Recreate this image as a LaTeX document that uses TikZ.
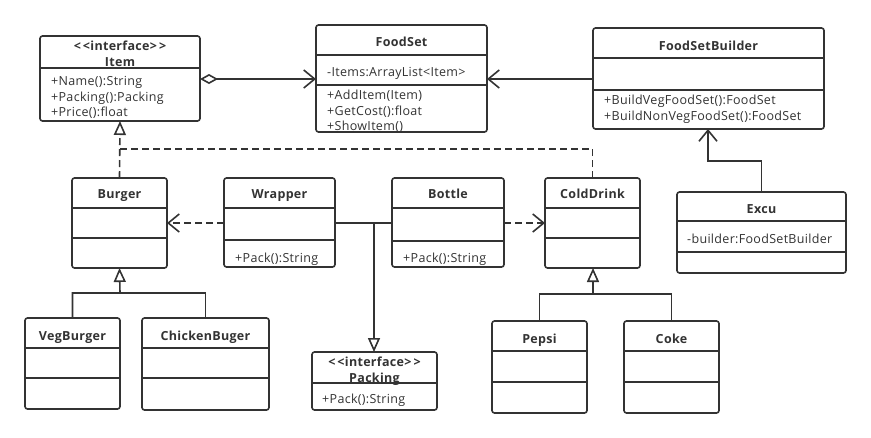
\documentclass[tikz,border=0pt]{standalone}
\usepackage{fontspec}
\setmainfont{Open Sans}[LetterSpace=2.5]
\usetikzlibrary{arrows.meta,calc}
\definecolor{ink}{HTML}{333333}
\tikzset{
  clsbox/.style={draw=ink, line width=1.6pt, rounded corners=2.5pt, fill=white, inner sep=0pt, outer sep=0pt},
  divline/.style={draw=ink, line width=1.5pt},
  conn/.style={draw=ink, line width=1.6pt},
  dashconn/.style={conn, dash pattern=on 7pt off 4pt},
  barb/.style={-{Straight Barb[length=11pt,width=18pt,line width=1.6pt]}},
  tri/.style={-{Triangle[open,length=14pt,width=12pt,line width=1.6pt]}},
  diambarb/.style={{Diamond[open,length=18pt,width=10pt,line width=1.6pt]}-{Straight Barb[length=11pt,width=18pt,line width=1.6pt]}},
  txt/.style={text=ink, inner sep=0pt, font=\fontsize{12.5}{15}\selectfont},
  ttl/.style={txt, font=\fontsize{12.5}{15}\selectfont\bfseries},
}
\newcommand\cls[5]{%
  \pgfmathsetmacro\cw{#4-#2}\pgfmathsetmacro\ch{#5-#3}%
  \node[clsbox, minimum width=\cw pt, minimum height=\ch pt, anchor=north west] (#1) at (#2,#3) {};}
\newcommand\divl[2]{\draw[divline] (#1.west |- 0,#2) -- (#1.east |- 0,#2);}
\newcommand\iface{<\kern2pt<interface>\kern2pt>}
\begin{document}
\begin{tikzpicture}[x=1pt,y=-1pt]
\useasboundingbox[fill=white] (0,0) rectangle (871,437);
% boxes
\cls{item}{40}{36}{200}{121}\divl{item}{68}
\cls{foodset}{316}{25}{487}{132}\divl{foodset}{55}\divl{foodset}{85}
\cls{fsb}{593}{28}{824}{129}\divl{fsb}{58}\divl{fsb}{90}
\cls{excu}{677}{192}{846}{273}\divl{excu}{221}\divl{excu}{252}
\cls{burger}{72}{178}{167}{268}\divl{burger}{208}\divl{burger}{238}
\cls{wrapper}{224}{178}{335}{267}\divl{wrapper}{208}\divl{wrapper}{240}
\cls{bottle}{392}{178}{504}{267}\divl{bottle}{208}\divl{bottle}{241}
\cls{colddrink}{545}{178}{640}{268}\divl{colddrink}{208}\divl{colddrink}{238}
\cls{vegburger}{25}{318}{120}{409}\divl{vegburger}{348}\divl{vegburger}{378}
\cls{chicken}{142}{318}{269}{410}\divl{chicken}{348}\divl{chicken}{378}
\cls{packing}{312}{352}{437}{410}\divl{packing}{383}
\cls{pepsi}{492}{321}{587}{413}\divl{pepsi}{351}\divl{pepsi}{382}
\cls{coke}{624}{321}{719}{413}\divl{coke}{351}\divl{coke}{382}
% texts
\node[ttl, anchor=base] (t-item1) at (120,50) {\iface};
\node[ttl, anchor=base] (t-item2) at (120,66) {Item};
\node[txt, anchor=base west] (t-item3) at (51,85.5) {+Name():String};
\node[txt, anchor=base west] (t-item4) at (51,101) {+Packing():Packing};
\node[txt, anchor=base west] (t-item5) at (51,116.5) {+Price():float};
\node[ttl, anchor=base] (t-fs1) at (401.5,46) {FoodSet};
\node[txt, anchor=base west] (t-fs2) at (327,76) {-Items:ArrayList<Item>};
\node[txt, anchor=base west] (t-fs3) at (327,99.5) {+AddItem(Item)};
\node[txt, anchor=base west] (t-fs4) at (327,115) {+GetCost():float};
\node[txt, anchor=base west] (t-fs5) at (327,130) {+ShowItem()};
\node[ttl, anchor=base] (t-fsb1) at (708.5,50) {FoodSetBuilder};
\node[txt, anchor=base west] (t-fsb2) at (604,104) {+BuildVegFoodSet():FoodSet};
\node[txt, anchor=base west] (t-fsb3) at (604,120) {+BuildNonVegFoodSet():FoodSet};
\node[ttl, anchor=base] (t-ex1) at (761.5,213) {Excu};
\node[txt, anchor=base west] (t-ex2) at (687,243) {-builder:FoodSetBuilder};
\node[ttl, anchor=base] (t-bu) at (119.5,198) {Burger};
\node[ttl, anchor=base] (t-wr1) at (279.5,198) {Wrapper};
\node[txt, anchor=base west] (t-wr2) at (235,262) {+Pack():String};
\node[ttl, anchor=base] (t-bo1) at (448,198) {Bottle};
\node[txt, anchor=base west] (t-bo2) at (403,262) {+Pack():String};
\node[ttl, anchor=base] (t-cd) at (592.5,198) {ColdDrink};
\node[ttl, anchor=base] (t-vb) at (72.5,340) {VegBurger};
\node[ttl, anchor=base] (t-cb) at (205.5,340) {ChickenBuger};
\node[ttl, anchor=base] (t-pa1) at (374.5,366) {\iface};
\node[ttl, anchor=base] (t-pa2) at (374.5,382) {Packing};
\node[txt, anchor=base west] (t-pa3) at (322,403) {+Pack():String};
\node[ttl, anchor=base] (t-pe) at (539.5,343) {Pepsi};
\node[ttl, anchor=base] (t-co) at (671.5,343) {Coke};
% junction coordinates
\coordinate (jr) at (120,149);
\coordinate (jb) at (120,293);
\coordinate (jc) at (593,294);
\coordinate (jp) at (374,223);
\coordinate (je) at (708,161);
% connectors
\draw[conn, diambarb] (item.east |- 0,79) -- (foodset.west |- 0,79);
\draw[conn, barb] (fsb.west |- 0,79) -- (foodset.east |- 0,79);
\draw[conn, barb] (excu.north) |- (je) -- (fsb.south -| je);
\draw[dashconn, tri] (burger.north) -- (item.south);
\draw[dashconn] (colddrink.north) |- (jr);
\draw[dashconn, barb] (wrapper.west |- 0,223) -- (burger.east |- 0,223);
\draw[dashconn, barb] (bottle.east |- 0,223) -- (colddrink.west |- 0,223);
\draw[conn] (wrapper.east |- 0,223) -- (bottle.west |- 0,223);
\draw[conn, tri] (jp) -- (packing.north -| jp);
\draw[conn, tri] (vegburger.north) |- (jb) -- (burger.south);
\draw[conn] (chicken.north) |- (jb);
\draw[conn, tri] (pepsi.north) |- (jc) -- (colddrink.south -| jc);
\draw[conn] (coke.north) |- (jc);
\end{tikzpicture}
\end{document}
